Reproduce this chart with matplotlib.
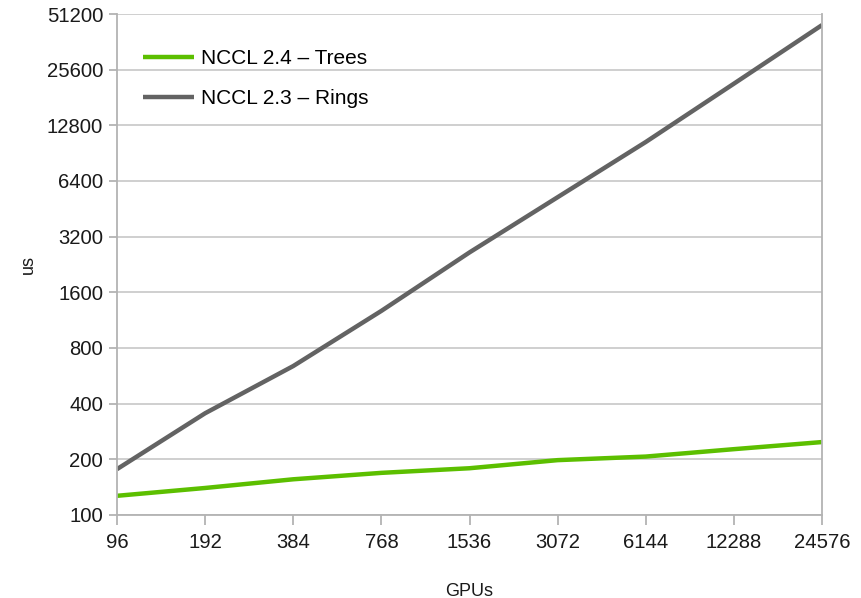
import matplotlib
matplotlib.use("Agg")
import matplotlib.pyplot as plt
from matplotlib.ticker import FixedLocator, FixedFormatter, NullLocator

plt.rcParams['font.family'] = ['Liberation Sans', 'DejaVu Sans']

gpus = ["96", "192", "384", "768", "1536", "3072", "6144", "12288", "24576"]
trees_us = [127, 140, 156, 169, 179, 198, 207, 227, 248]
rings_us = [177, 355, 639, 1270, 2630, 5230, 10400, 21500, 44600]
y_ticks = [100, 200, 400, 800, 1600, 3200, 6400, 12800, 25600, 51200]

fig = plt.figure(figsize=(8.61, 5.98), dpi=100)
ax = fig.add_axes([117/861, 1 - 515/598, (822 - 117)/861, (515 - 14)/598])

x = list(range(len(gpus)))
ax.plot(x, trees_us, color="#5cbf00", lw=3.2, label="NCCL 2.4 – Trees", solid_capstyle="butt")
ax.plot(x, rings_us, color="#636363", lw=3.2, label="NCCL 2.3 – Rings", solid_capstyle="butt")

ax.set_yscale("log", base=2)
ax.set_ylim(100, 51200)
ax.set_xlim(0, len(gpus) - 1)
ax.yaxis.set_major_locator(FixedLocator(y_ticks))
ax.yaxis.set_major_formatter(FixedFormatter([str(v) for v in y_ticks]))
ax.yaxis.set_minor_locator(NullLocator())
ax.set_xticks(x)
ax.set_xticklabels(gpus)

ax.grid(axis="y", color="#cccccc", lw=1.3)
ax.set_axisbelow(True)
for side in ["left", "right", "bottom"]:
    ax.spines[side].set_color("#b3b3b3")
    ax.spines[side].set_linewidth(1.3)
ax.spines["top"].set_visible(False)

ax.tick_params(axis="both", colors="#b3b3b3", width=1.3, labelcolor="#1a1a1a",
               labelsize=14.6, direction="out")
ax.tick_params(axis="y", length=6, pad=4)
ax.tick_params(axis="x", length=7, pad=6)

ax.set_xlabel("GPUs", fontsize=13, color="#1a1a1a", labelpad=22)
ax.set_ylabel("us", fontsize=13, color="#1a1a1a", labelpad=7)

ax.legend(loc="upper left", bbox_to_anchor=(143/861, 1 - 49/598), bbox_transform=fig.transFigure,
          frameon=False, fontsize=15, handlelength=2.45, handletextpad=0.33,
          labelspacing=1.02, borderpad=0, borderaxespad=0)

fig.savefig("out.png", dpi=100)
